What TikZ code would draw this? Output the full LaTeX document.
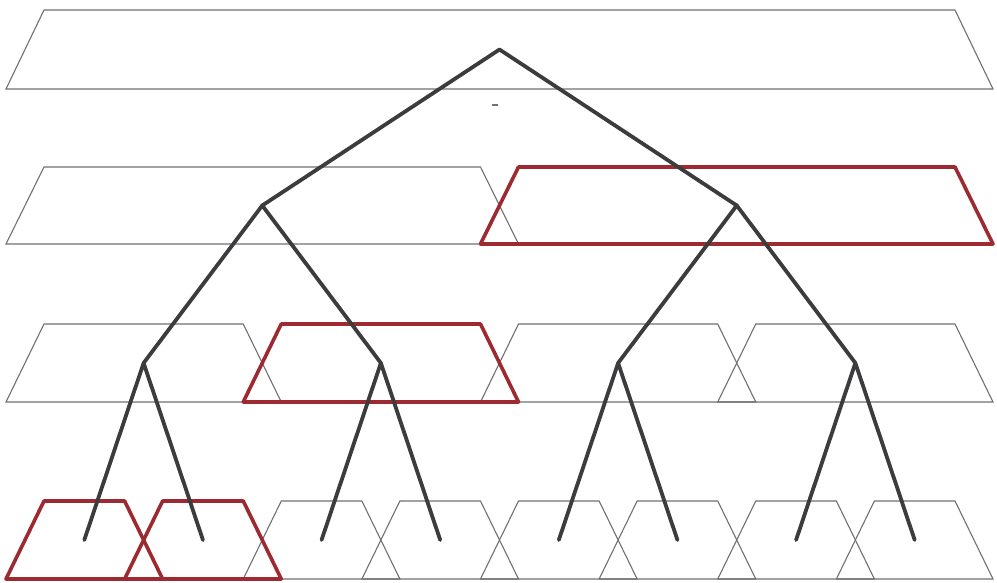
\documentclass[tikz,border=0pt]{standalone}
\definecolor{treegray}{HTML}{3C3C3E}
\definecolor{boxgray}{HTML}{707074}
\definecolor{hlred}{HTML}{9C2A30}
\tikzset{
  cellbox/.style={draw=boxgray, line width=1.1pt, line join=miter},
  hlbox/.style={draw=hlred, line width=3.6pt, line join=round},
  branch/.style={draw=treegray, line width=3.8pt, line cap=round, line join=round},
  speck/.style={draw=boxgray, line width=1.6pt},
}
% #1 style, #2 number of cells in row, #3 cell index, #4 top y, #5 bottom y
\newcommand{\celltrap}[5]{%
  \pgfmathsetmacro\cta{6+#3*949/#2}%
  \pgfmathsetmacro\ctb{6+(#3+1)*949/#2}%
  \draw[#1] (\cta,#5) -- ({\cta+38},#4) -- (\ctb,#4) -- ({\ctb+38},#5) -- cycle;%
}
\begin{document}
\begin{tikzpicture}[x=1pt,y=-1pt]
\useasboundingbox (0,0) rectangle (997,583);
% grey cells and tree positions
\foreach \k/\yt/\yb/\yc in {0/10/89/49.5, 1/167/244/205.5, 2/324/402/363, 3/501/579/540}{
  \pgfmathtruncatemacro\N{2^\k}
  \pgfmathtruncatemacro\last{\N-1}
  \foreach \j in {0,...,\last}{
    \celltrap{cellbox}{\N}{\j}{\yt}{\yb}
    \pgfmathsetmacro\cx{25+(\j+0.5)*949/\N}
    \coordinate (n\k-\j) at (\cx,\yc);
  }
}
% highlighted cells
\celltrap{hlbox}{2}{1}{167}{244}
\celltrap{hlbox}{4}{1}{324}{402}
\celltrap{hlbox}{8}{0}{501}{579}
\celltrap{hlbox}{8}{1}{501}{579}
% tree
\draw[branch] (n1-0) -- (n0-0) -- (n1-1);
\draw[branch] (n2-0) -- (n1-0) -- (n2-1);
\draw[branch] (n2-2) -- (n1-1) -- (n2-3);
\draw[branch] (n3-0) -- (n2-0) -- (n3-1);
\draw[branch] (n3-2) -- (n2-1) -- (n3-3);
\draw[branch] (n3-4) -- (n2-2) -- (n3-5);
\draw[branch] (n3-6) -- (n2-3) -- (n3-7);
% small mark below the top cell
\coordinate (s1) at (492,105);
\coordinate (s2) at (498,105);
\draw[speck] (s1) -- (s2);
\end{tikzpicture}
\end{document}
